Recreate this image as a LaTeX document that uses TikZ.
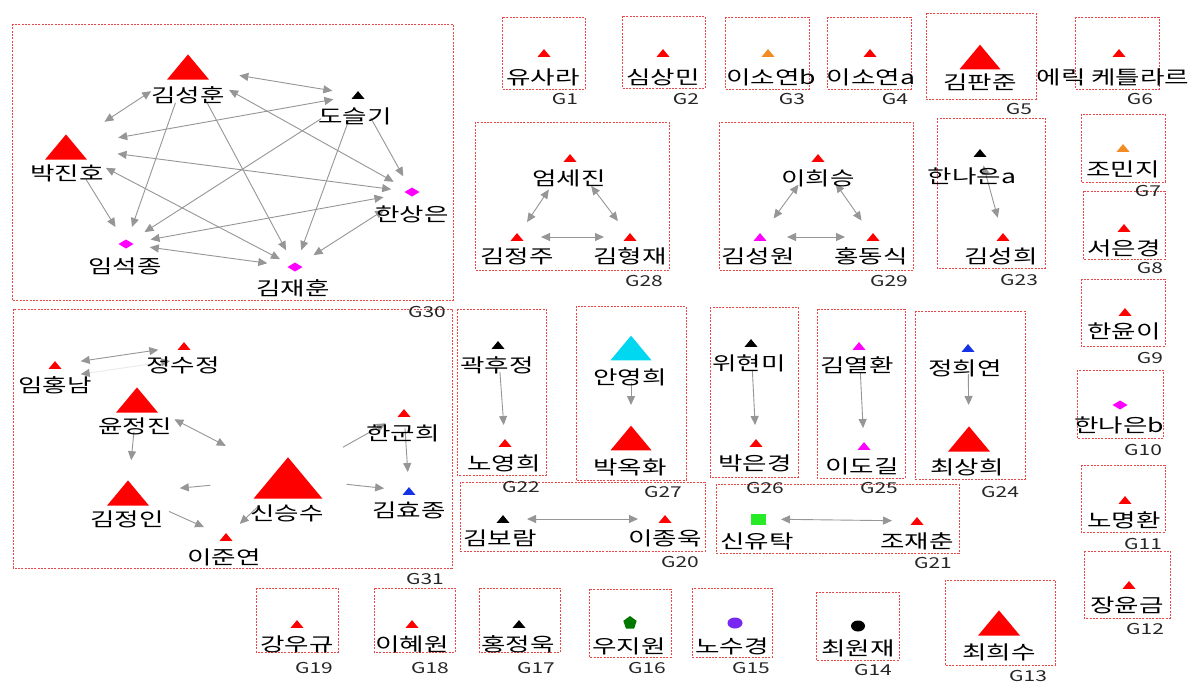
\documentclass[tikz,border=0pt]{standalone}
\usepackage{fontspec}
\setmainfont{Noto Sans CJK KR}[FakeStretch=1.4]
\usetikzlibrary{arrows.meta,shapes.geometric}
\definecolor{boxred}{RGB}{232,72,72}
\definecolor{edgegray}{RGB}{150,150,150}
\definecolor{triorange}{RGB}{242,140,34}
\definecolor{trimagenta}{RGB}{255,0,255}
\definecolor{triblue}{RGB}{20,50,230}
\definecolor{tricyan}{RGB}{0,215,240}
\definecolor{lime}{RGB}{40,235,40}
\definecolor{darkgreen}{RGB}{0,120,0}
\definecolor{violet1}{RGB}{120,40,240}
\tikzset{
    grp/.style={draw=boxred, line width=1pt, dash pattern=on 2pt off 1.3pt},
    tri/.style 2 args={rectangle, inner sep=0pt, outer sep=0pt,
        minimum width=#2, minimum height=0.6*#2,
        path picture={\fill[#1] (path picture bounding box.south west)
            -- (path picture bounding box.south east)
            -- (path picture bounding box.north) -- cycle;}},
    dia/.style={rectangle, inner sep=0pt, outer sep=0pt,
        minimum width=15pt, minimum height=9pt,
        path picture={\fill[#1] (path picture bounding box.west)
            -- (path picture bounding box.north)
            -- (path picture bounding box.east)
            -- (path picture bounding box.south) -- cycle;}},
    blob/.style={ellipse, fill=#1, inner sep=0pt, minimum width=15pt, minimum height=11pt},
    who/.style={font=\fontsize{19}{22}\selectfont, inner sep=0pt},
    gid/.style={font=\fontsize{15}{17}\selectfont, inner sep=0pt, text=black!85},
    arr/.style={draw=edgegray, line width=0.9pt, -{Triangle[length=9pt,width=8pt]}},
    dbl/.style={draw=edgegray, line width=0.9pt, {Triangle[length=9pt,width=8pt]}-{Triangle[length=9pt,width=8pt]}},
    ghost/.style={draw=edgegray!20, line width=0.9pt,
        {Triangle[length=9pt,width=8pt,color=edgegray]}-{Triangle[length=9pt,width=8pt,color=edgegray]}},
}
\begin{document}
\begin{tikzpicture}[x=1pt,y=-1pt]
    \useasboundingbox (0,0) rectangle (1198,683);
    \fill[white] (0,0) rectangle (1198,683);
    % group frames
    \draw[grp] (12,24) rectangle (453,300);
    \draw[grp] (13,309) rectangle (452,568);
    \draw[grp] (502,17) rectangle (585,89);
    \draw[grp] (622,16) rectangle (705,88);
    \draw[grp] (725,17) rectangle (809,89);
    \draw[grp] (827,17) rectangle (911,89);
    \draw[grp] (926,13) rectangle (1036,99);
    \draw[grp] (1075,17) rectangle (1159,89);
    \draw[grp] (1081,114) rectangle (1165,182);
    \draw[grp] (1083,191) rectangle (1165,259);
    \draw[grp] (1081,279) rectangle (1165,346);
    \draw[grp] (1077,370) rectangle (1163,438);
    \draw[grp] (1081,465) rectangle (1165,532);
    \draw[grp] (1084,551) rectangle (1170,618);
    \draw[grp] (945,580) rectangle (1055,665);
    \draw[grp] (816,592) rectangle (899,660);
    \draw[grp] (692,588) rectangle (772,657);
    \draw[grp] (589,589) rectangle (671,657);
    \draw[grp] (479,588) rectangle (560,652);
    \draw[grp] (374,588) rectangle (455,652);
    \draw[grp] (256,588) rectangle (338,652);
    \draw[grp] (460,482) rectangle (705,551);
    \draw[grp] (716,484) rectangle (959,553);
    \draw[grp] (457,309) rectangle (546,475);
    \draw[grp] (937,118) rectangle (1045,268);
    \draw[grp] (915,311) rectangle (1025,479);
    \draw[grp] (817,309) rectangle (905,478);
    \draw[grp] (710,307) rectangle (798,477);
    \draw[grp] (576,306) rectangle (686,480);
    \draw[grp] (475,122) rectangle (669,270);
    \draw[grp] (719,122) rectangle (913,270);

    % G30
    \node[tri={red}{42pt}] (sunghoon) at (188,67) {};
    \node[tri={black}{13pt}] (seulgi) at (358,95) {};
    \node[tri={red}{42pt}] (jinho) at (66,147) {};
    \node[dia=trimagenta] (sangeun) at (412,192) {};
    \node[dia=trimagenta] (seokjong) at (126,244) {};
    \node[dia=trimagenta] (jaehoon) at (295,267) {};
    \draw[dbl, shorten <=52pt, shorten >=26pt] (sunghoon.center) -- (seulgi.center);
    \draw[dbl, shorten <=44pt, shorten >=46pt] (sunghoon.center) -- (jinho.center);
    \draw[dbl, shorten <=25pt, shorten >=53pt] (seulgi.center) -- (jinho.center);
    \draw[dbl, shorten <=52pt, shorten >=21pt] (jinho.center) -- (sangeun.center);
    \draw[dbl, shorten <=45pt, shorten >=17pt] (jinho.center) -- (jaehoon.center);
    \draw[arr, shorten <=38pt, shorten >=20pt] (jinho.center) -- (seokjong.center);
    \draw[arr, shorten <=38pt, shorten >=18pt] (sunghoon.center) -- (seokjong.center);
    \draw[arr, shorten <=40pt, shorten >=19pt] (sunghoon.center) -- (jaehoon.center);
    \draw[dbl, shorten <=47pt, shorten >=21pt] (sunghoon.center) -- (sangeun.center);
    \draw[arr, shorten <=44pt, shorten >=22pt] (seulgi.center) -- (seokjong.center);
    \draw[arr, shorten <=29pt, shorten >=18pt] (seulgi.center) -- (jaehoon.center);
    \draw[arr, shorten <=26pt, shorten >=18pt] (seulgi.center) -- (sangeun.center);
    \draw[dbl, shorten <=29pt, shorten >=25pt] (sangeun.center) -- (seokjong.center);
    \draw[dbl, shorten <=24pt, shorten >=28pt] (seokjong.center) -- (jaehoon.center);
    \draw[dbl, shorten <=33pt, shorten >=22pt] (sangeun.center) -- (jaehoon.center);
    \node[who] (sunghoon-t) at (188,95) {김성훈};
    \node[who] (seulgi-t) at (355,116) {도슬기};
    \node[who] (jinho-t) at (67,173) {박진호};
    \node[who] (sangeun-t) at (412,214) {한상은};
    \node[who] (seokjong-t) at (125,266) {임석종};
    \node[who] (jaehoon-t) at (293,288) {김재훈};
    \node[gid] (g30) at (427,312) {G30};

    % G31
    \node[tri={red}{13pt}] (hongnam) at (55,365) {};
    \node[tri={red}{13pt}] (sujeong) at (184,346) {};
    \node[tri={red}{42pt}] (jeongjin) at (137,400) {};
    \node[tri={red}{42pt}] (jeongin) at (128,493) {};
    \node[tri={red}{69pt}] (seungsu) at (288,478) {};
    \node[tri={red}{13pt}] (junyeon) at (226,537) {};
    \node[tri={red}{13pt}] (gunhee) at (404,413) {};
    \node[tri={triblue}{13pt}] (hyojong) at (409,491) {};
    \draw[dbl, shorten <=26pt, shorten >=26pt] (hongnam.center) -- (sujeong.center);
    \draw[ghost, shorten <=26pt, shorten >=14pt] ([yshift=-13pt]hongnam.center) -- ([yshift=-13pt]sujeong.center);
    \draw[dbl, shorten <=42pt, shorten >=70pt] (jeongjin.center) -- (seungsu.center);
    \draw[arr, shorten <=32pt, shorten >=33pt] (jeongjin.center) -- (jeongin.center);
    \draw[arr, shorten <=78pt, shorten >=52pt] (seungsu.center) -- (jeongin.center);
    \draw[arr, shorten <=45pt, shorten >=24pt] (jeongin.center) -- (junyeon.center);
    \draw[arr, shorten <=41pt, shorten >=19pt] (seungsu.center) -- (junyeon.center);
    \draw[arr, shorten <=63pt, shorten >=21pt] (seungsu.center) -- (gunhee.center);
    \draw[arr, shorten <=59pt, shorten >=25pt] (seungsu.center) -- (hyojong.center);
    \draw[arr, shorten <=15pt, shorten >=19pt] (gunhee.center) -- (hyojong.center);
    \node[who] (hongnam-t) at (55,385) {임홍남};
    \node[who] (sujeong-t) at (183,365) {정수정};
    \node[who] (jeongjin-t) at (135,426) {윤정진};
    \node[who] (jeongin-t) at (127,519) {김정인};
    \node[who] (seungsu-t) at (287,513) {신승수};
    \node[who] (junyeon-t) at (224,557) {이준연};
    \node[who] (gunhee-t) at (403,433) {한군희};
    \node[who] (hyojong-t) at (409,510) {김효종};
    \node[gid] (g31) at (425,579) {G31};

    % G28, G29, G23
    \node[tri={red}{13pt}] (sejin) at (570,158) {};
    \node[tri={red}{13pt}] (jeongju) at (517,237) {};
    \node[tri={red}{13pt}] (hyeongjae) at (630,237) {};
    \draw[dbl, shorten <=38pt, shorten >=18pt] (sejin.center) -- (jeongju.center);
    \draw[dbl, shorten <=35pt, shorten >=20pt] (sejin.center) -- (hyeongjae.center);
    \draw[dbl, shorten <=24pt, shorten >=26pt] (jeongju.center) -- (hyeongjae.center);
    \node[who] (sejin-t) at (569,178) {엄세진};
    \node[who] (jeongju-t) at (517,256) {김정주};
    \node[who] (hyeongjae-t) at (630,256) {김형재};
    \node[gid] (g28) at (644,281) {G28};
    \node[tri={red}{13pt}] (heeseung) at (818,158) {};
    \node[tri={trimagenta}{13pt}] (seongwon) at (760,237) {};
    \node[tri={red}{13pt}] (dongsik) at (873,237) {};
    \draw[dbl, shorten <=33pt, shorten >=23pt] (heeseung.center) -- (seongwon.center);
    \draw[dbl, shorten <=31pt, shorten >=20pt] (heeseung.center) -- (dongsik.center);
    \draw[dbl, shorten <=27pt, shorten >=28pt] (seongwon.center) -- (dongsik.center);
    \node[who] (heeseung-t) at (818,178) {이희승};
    \node[who] (seongwon-t) at (758,256) {김성원};
    \node[who] (dongsik-t) at (871,256) {홍동식};
    \node[gid] (g29) at (889,281) {G29};
    \node[tri={black}{13pt}] (naeuna) at (980,153) {};
    \node[tri={red}{13pt}] (seonghee) at (1003,237) {};
    \draw[dbl, shorten <=13pt, shorten >=20pt] (naeuna.center) -- (seonghee.center);
    \node[who] (naeuna-t) at (972,176) {한나은a};
    \node[who] (seonghee-t) at (1001,256) {김성희};
    \node[gid] (g23) at (1019,280) {G23};

    % G22, G27, G26, G25, G24
    \node[tri={black}{13pt}] (hujeong) at (498,345) {};
    \node[tri={red}{13pt}] (younghee) at (505,443) {};
    \draw[arr, shorten <=27pt, shorten >=18pt] (hujeong.center) -- (younghee.center);
    \node[who] (hujeong-t) at (497,365) {곽후정};
    \node[who] (younghee-t) at (504,463) {노영희};
    \node[gid] (g22) at (521,487) {G22};
    \node[tri={tricyan}{41pt}] (anyeong) at (631,348) {};
    \node[tri={red}{41pt}] (okhwa) at (631,438) {};
    \draw[arr, shorten <=35pt, shorten >=33pt] (anyeong.center) -- (okhwa.center);
    \node[who] (anyeong-t) at (630,377) {안영희};
    \node[who] (okhwa-t) at (630,467) {박옥화};
    \node[gid] (g27) at (663,492) {G27};
    \node[tri={black}{13pt}] (hyeonmi) at (751,343) {};
    \node[tri={red}{13pt}] (eungyeong) at (756,443) {};
    \draw[arr, shorten <=27pt, shorten >=18pt] (hyeonmi.center) -- (eungyeong.center);
    \node[who] (hyeonmi-t) at (749,363) {위현미};
    \node[who] (eungyeong-t) at (755,463) {박은경};
    \node[gid] (g26) at (765,488) {G26};
    \node[tri={trimagenta}{13pt}] (yeolhwan) at (859,346) {};
    \node[tri={trimagenta}{13pt}] (dogil) at (864,446) {};
    \draw[arr, shorten <=27pt, shorten >=18pt] (yeolhwan.center) -- (dogil.center);
    \node[who] (yeolhwan-t) at (857,365) {김열환};
    \node[who] (dogil-t) at (862,466) {이도길};
    \node[gid] (g25) at (879,488) {G25};
    \node[tri={triblue}{13pt}] (huiyeon) at (968,348) {};
    \node[tri={red}{42pt}] (sanghee) at (969,439) {};
    \draw[arr, shorten <=26pt, shorten >=34pt] (huiyeon.center) -- (sanghee.center);
    \node[who] (huiyeon-t) at (965,368) {정희연};
    \node[who] (sanghee-t) at (967,467) {최상희};
    \node[gid] (g24) at (1000,492) {G24};

    % G20, G21
    \node[tri={black}{13pt}] (boram) at (503,519) {};
    \node[tri={red}{13pt}] (jongwook) at (665,519) {};
    \draw[dbl, shorten <=24pt, shorten >=27pt] (boram.center) -- (jongwook.center);
    \node[who] (boram-t) at (500,538) {김보람};
    \node[who] (jongwook-t) at (665,538) {이종욱};
    \node[gid] (g20) at (680,562) {G20};
    \node[rectangle, fill=lime, inner sep=0pt, minimum width=15pt, minimum height=11pt] (yutak) at (758,519) {};
    \node[tri={red}{13pt}] (jaechun) at (917,521) {};
    \draw[dbl, shorten <=23pt, shorten >=25pt] (yutak.center) -- (jaechun.center);
    \node[who] (yutak-t) at (757,541) {신유탁};
    \node[who] (jaechun-t) at (917,541) {조재춘};
    \node[gid] (g21) at (933,563) {G21};

    % single groups, top row
    \node[tri={red}{13pt}] (sara) at (544,53) {};
    \node[who] (sara-t) at (543,77) {유사라};
    \node[gid] (g1) at (565,99) {G1};
    \node[tri={red}{13pt}] (sangmin) at (663,53) {};
    \node[who] (sangmin-t) at (663,77) {심상민};
    \node[gid] (g2) at (686,99) {G2};
    \node[tri={triorange}{13pt}] (soyeonb) at (768,53) {};
    \node[who] (soyeonb-t) at (771,77) {이소연b};
    \node[gid] (g3) at (792,99) {G3};
    \node[tri={red}{13pt}] (soyeona) at (870,53) {};
    \node[who] (soyeona-t) at (871,77) {이소연a};
    \node[gid] (g4) at (895,99) {G4};
    \node[tri={red}{41pt}] (panjun) at (980,57) {};
    \node[who] (panjun-t) at (980,82) {김판준};
    \node[gid] (g5) at (1019,109) {G5};
    \node[tri={red}{13pt}] (erik) at (1119,53) {};
    \node[who] (erik-t) at (1113,77) {에릭 케틀라르};
    \node[gid] (g6) at (1140,99) {G6};

    % single groups, right column
    \node[tri={triorange}{13pt}] (minji) at (1123,148) {};
    \node[who] (minji-t) at (1123,169) {조민지};
    \node[gid] (g7) at (1148,191) {G7};
    \node[tri={red}{13pt}] (eunkyung) at (1124,228) {};
    \node[who] (eunkyung-t) at (1124,248) {서은경};
    \node[gid] (g8) at (1150,268) {G8};
    \node[tri={red}{13pt}] (yuni) at (1125,312) {};
    \node[who] (yuni-t) at (1124,331) {한윤이};
    \node[gid] (g9) at (1150,358) {G9};
    \node[dia=trimagenta] (naeunb) at (1120,405) {};
    \node[who] (naeunb-t) at (1119,425) {한나은b};
    \node[gid] (g10) at (1143,450) {G10};
    \node[tri={red}{13pt}] (myeonghwan) at (1125,500) {};
    \node[who] (myeonghwan-t) at (1124,520) {노명환};
    \node[gid] (g11) at (1143,544) {G11};
    \node[tri={red}{13pt}] (yungeum) at (1129,585) {};
    \node[who] (yungeum-t) at (1127,605) {장윤금};
    \node[gid] (g12) at (1145,629) {G12};

    % single groups, bottom row
    \node[tri={red}{42pt}] (heesu) at (999,623) {};
    \node[who] (heesu-t) at (999,652) {최희수};
    \node[gid] (g13) at (1028,676) {G13};
    \node[blob=black, minimum width=14pt] (wonjae) at (858,626) {};
    \node[who] (wonjae-t) at (858,648) {최원재};
    \node[gid] (g14) at (873,670) {G14};
    \node[blob=violet1] (sugyeong) at (735,623) {};
    \node[who] (sugyeong-t) at (732,646) {노수경};
    \node[gid] (g15) at (751,668) {G15};
    \node[regular polygon, regular polygon sides=5, fill=darkgreen, inner sep=0pt, minimum size=14pt] (jiwon) at (630,623) {};
    \node[who] (jiwon-t) at (629,646) {우지원};
    \node[gid] (g16) at (647,668) {G16};
    \node[tri={black}{13pt}] (jeongwook) at (519,624) {};
    \node[who] (jeongwook-t) at (518,644) {홍정욱};
    \node[gid] (g17) at (536,668) {G17};
    \node[tri={red}{13pt}] (hyewon) at (412,624) {};
    \node[who] (hyewon-t) at (412,644) {이혜원};
    \node[gid] (g18) at (430,668) {G18};
    \node[tri={red}{13pt}] (wookyu) at (297,624) {};
    \node[who] (wookyu-t) at (297,644) {강우규};
    \node[gid] (g19) at (314,668) {G19};
\end{tikzpicture}
\end{document}
